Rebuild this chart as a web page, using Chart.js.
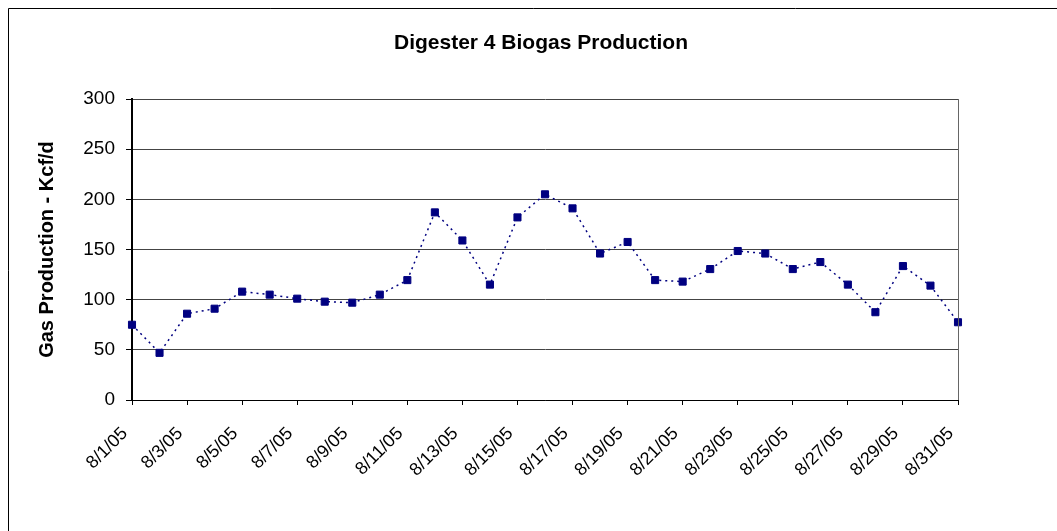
<!DOCTYPE html>
<html>
<head>
<meta charset="utf-8">
<script src="https://cdn.jsdelivr.net/npm/chart.js@4.4.1/dist/chart.umd.min.js"></script>
<style>
  html, body { margin: 0; padding: 0; background: #fff; }
  #wrap { width: 1057px; height: 531px; position: relative; }
</style>
</head>
<body>
<div id="wrap"><canvas id="c" width="1057" height="531"></canvas></div>
<script>
const chartTitle = 'Digester 4 Biogas Production';
const yAxisTitle = 'Gas Production - Kcf/d';
const dates = ['8/1/05','8/2/05','8/3/05','8/4/05','8/5/05','8/6/05','8/7/05','8/8/05','8/9/05','8/10/05',
  '8/11/05','8/12/05','8/13/05','8/14/05','8/15/05','8/16/05','8/17/05','8/18/05','8/19/05','8/20/05',
  '8/21/05','8/22/05','8/23/05','8/24/05','8/25/05','8/26/05','8/27/05','8/28/05','8/29/05','8/30/05','8/31/05'];
const gasProduction = [75, 47, 86, 91, 108, 105, 101, 98, 97, 105,
  119.5, 187, 159, 115, 182, 205, 191, 146, 157.5, 119.5,
  118, 130.5, 148.5, 146, 130.5, 137.5, 115, 87.5, 133.5, 114, 77.5];
const yTicks = [0, 50, 100, 150, 200, 250, 300];

const FONT = "'Liberation Sans', Arial, sans-serif";

const framePlugin = {
  id: 'frame',
  beforeDraw(chart) {
    const ctx = chart.ctx;
    ctx.save();
    ctx.fillStyle = '#fff';
    ctx.fillRect(0, 0, chart.width, chart.height);
    ctx.strokeStyle = '#000';
    ctx.lineWidth = 1;
    ctx.beginPath();
    ctx.moveTo(8.5, chart.height + 2);
    ctx.lineTo(8.5, 8.5);
    ctx.lineTo(chart.width + 2, 8.5);
    ctx.stroke();
    ctx.restore();
  },
  afterDraw(chart) {
    const ctx = chart.ctx;
    const a = chart.chartArea;
    ctx.save();
    ctx.strokeStyle = '#666';
    ctx.lineWidth = 1;
    ctx.beginPath();
    ctx.moveTo(Math.round(a.right) + 0.5, a.top);
    ctx.lineTo(Math.round(a.right) + 0.5, a.bottom);
    ctx.stroke();
    ctx.fillStyle = '#000';
    ctx.font = 'bold 21px ' + FONT;
    ctx.textAlign = 'center';
    ctx.textBaseline = 'alphabetic';
    ctx.fillText(chartTitle, 541, 49);
    ctx.restore();
  }
};

new Chart(document.getElementById('c'), {
  type: 'line',
  data: {
    labels: dates,
    datasets: [{
      data: gasProduction,
      borderColor: '#000080',
      borderWidth: 1.5,
      borderDash: [2, 4],
      backgroundColor: '#000080',
      pointStyle: 'rect',
      pointRadius: 5,
      pointBorderWidth: 1,
      pointBorderColor: '#000080',
      pointBackgroundColor: '#000080',
      tension: 0,
      fill: false,
      clip: false
    }]
  },
  options: {
    responsive: false,
    animation: false,
    devicePixelRatio: 1,
    layout: { padding: { left: 31, right: 99, top: 99, bottom: 0 } },
    plugins: {
      legend: { display: false },
      title: { display: false },
      tooltip: { enabled: false }
    },
    scales: {
      x: {
        type: 'category',
        offset: false,
        afterFit(scale) { scale.height = 131; },
        grid: {
          display: true,
          drawOnChartArea: false,
          drawTicks: true,
          tickLength: 5,
          tickColor: '#000'
        },
        border: { display: true, color: '#000', width: 1 },
        ticks: {
          autoSkip: false,
          minRotation: 45,
          maxRotation: 45,
          padding: 11,
          color: '#000',
          font: { family: FONT, size: 18 },
          callback(value, index) { return index % 2 === 0 ? dates[index] + '  ' : null; }
        }
      },
      y: {
        min: 0,
        max: 300,
        afterFit(scale) { scale.width = 101; },
        afterBuildTicks(scale) { scale.ticks = yTicks.map(v => ({ value: v })); },
        grid: {
          color: '#444',
          lineWidth: 1,
          tickLength: 6,
          tickColor: '#000'
        },
        border: { display: true, color: '#000', width: 2 },
        ticks: {
          padding: 11,
          color: '#000',
          font: { family: FONT, size: 19 }
        },
        title: {
          display: true,
          text: yAxisTitle,
          color: '#000',
          font: { family: FONT, size: 20, weight: 'bold' },
          padding: { top: 4, bottom: 4 }
        }
      }
    }
  },
  plugins: [framePlugin]
});
</script>
</body>
</html>
